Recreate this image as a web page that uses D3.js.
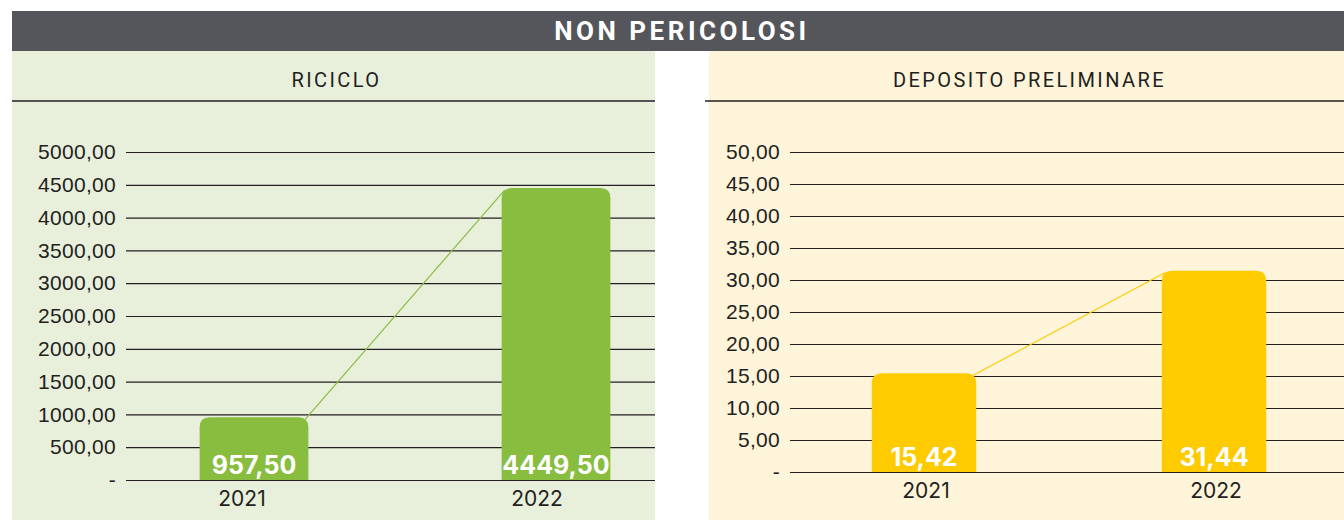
<!DOCTYPE html>
<meta charset="utf-8">
<style>
body { margin: 0; background: #fff; }
svg { display: block; font-family: Inter, "Helvetica Neue", Arial, sans-serif; }
.grid line { stroke: #231f20; stroke-width: 1.2px; }
.grid text { font-size: 21px; letter-spacing: 0.3px; fill: #231f20; }
.year { font-size: 21px; fill: #231f20; text-anchor: middle; }
.val { font-size: 25px; font-weight: 700; fill: #fff; text-anchor: middle; }
.sub { font-family: Roboto, Arial, sans-serif; font-size: 20px; letter-spacing: 2.4px; fill: #231f20; text-anchor: middle; }
</style>
<svg width="1344" height="520"></svg>
<script src="https://d3js.org/d3.v7.min.js"></script>
<script>

var title = "NON PERICOLOSI";
var years = ["2021", "2022"];

var riciclo = [957.50, 4449.50];
var ricicloTicks = [0, 500, 1000, 1500, 2000, 2500, 3000, 3500, 4000, 4500, 5000];

var deposito = [15.42, 31.44];
var depositoTicks = [0, 5, 10, 15, 20, 25, 30, 35, 40, 45, 50];

var it = d3.formatLocale({decimal: ",", thousands: "", grouping: [3], currency: ["", ""]});
var fmt = it.format(".2f");
function tickFmt(d) { return d === 0 ? "-" : fmt(d); }

var svg = d3.select("svg");

// header band
svg.append("rect").attr("x", 12).attr("y", 11).attr("width", 1332).attr("height", 40).attr("fill", "#55565b");
svg.append("text").attr("x", 682).attr("y", 40)
    .attr("text-anchor", "middle").attr("fill", "#fff")
    .style("font-family", "Roboto, Arial, sans-serif")
    .style("font-size", "26px").style("font-weight", 700).style("letter-spacing", "3.5px")
    .text(title);

function panel(opt) {
  svg.append("rect").attr("x", opt.bgX).attr("y", 51).attr("width", opt.bgW).attr("height", 469).attr("fill", opt.bg);
  svg.append("text").attr("class", "sub").attr("x", opt.bgX + opt.bgW / 2 + 3).attr("y", 87).text(opt.name);
  svg.append("line").attr("x1", opt.lineX).attr("x2", opt.bgX + opt.bgW).attr("y1", 101).attr("y2", 101)
      .attr("stroke", "#231f20").attr("stroke-width", 1.5);

  var y = d3.scaleLinear().domain([0, d3.max(opt.ticks)]).range([opt.y0, opt.y1]);
  var x = d3.scaleBand().domain(years).range(opt.xr).paddingInner(0.64).paddingOuter(0.32);

  var ax = svg.append("g").attr("class", "grid")
      .attr("transform", "translate(" + opt.gx + ",0)")
      .call(d3.axisLeft(y).tickValues(opt.ticks).tickFormat(tickFmt)
        .tickSize(-(opt.bgX + opt.bgW - opt.gx)).tickPadding(10));
  ax.select(".domain").remove();

  var bw = x.bandwidth(), r = 10;
  svg.selectAll(null).data(opt.values).enter().append("path")
      .attr("fill", opt.color)
      .attr("d", function(d, i) {
        var x0 = x(years[i]), x1 = x0 + bw, yt = y(d), yb = y(0);
        return "M" + x0 + "," + yb + "V" + (yt + r) + "Q" + x0 + "," + yt + " " + (x0 + r) + "," + yt +
               "H" + (x1 - r) + "Q" + x1 + "," + yt + " " + x1 + "," + (yt + r) + "V" + yb + "Z";
      });

  // series line between bar tops
  svg.append("line")
      .attr("x1", x(years[0]) + bw - 3).attr("y1", y(opt.values[0]) + 2)
      .attr("x2", x(years[1]) + 3).attr("y2", y(opt.values[1]) + 2)
      .attr("stroke", opt.color).attr("stroke-width", 1.2);

  svg.selectAll(null).data(opt.values).enter().append("text")
      .attr("class", "val")
      .attr("x", function(d, i) { return x(years[i]) + bw / 2; })
      .attr("y", y(0) - 6)
      .text(fmt);

  svg.selectAll(null).data(years).enter().append("text")
      .attr("class", "year")
      .attr("x", function(d, i) { return x(d) + bw / 2 + opt.yearShift[i]; })
      .attr("y", y(0) + 26)
      .text(function(d) { return d; });
}

panel({name: "RICICLO", values: riciclo, ticks: ricicloTicks, color: "#89bd40", bg: "#e8f0dc",
       bgX: 12, bgW: 643, lineX: 12, gx: 126, y0: 480, y1: 152, xr: [103, 707], yearShift: [-12, -19]});

panel({name: "DEPOSITO PRELIMINARE", values: deposito, ticks: depositoTicks, color: "#fecb00", bg: "#fef4d9",
       bgX: 709, bgW: 635, lineX: 705, gx: 790, y0: 472, y1: 152, xr: [779, 1359], yearShift: [2, 2]});

</script>
